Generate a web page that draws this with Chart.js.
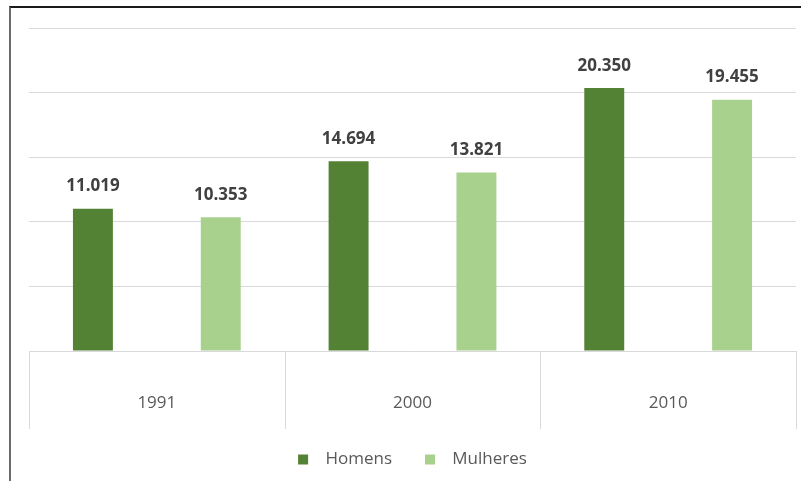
<!DOCTYPE html>
<html>
<head>
<meta charset="utf-8">
<script src="https://cdn.jsdelivr.net/npm/chart.js@4.4.0/dist/chart.umd.min.js"></script>
<style>
  html, body { margin: 0; padding: 0; background: #fff; }
  #wrap { position: relative; width: 801px; height: 481px; }
  #frame { position: absolute; left: 9px; top: 6px; right: 0; bottom: 0;
           border-top: 2px solid #1a1a1a; border-left: 2px solid #6b6b6b; }
  canvas { position: absolute; left: 0; top: 0; }
</style>
</head>
<body>
<div id="wrap">
  <div id="frame"></div>
  <canvas id="grafico" width="801" height="481"></canvas>
</div>
<script>
// dados
const anos = ['1991', '2000', '2010'];
const homens = [11.019, 14.694, 20.350];
const mulheres = [10.353, 13.821, 19.455];
const marcasY = [0, 5, 10, 15, 20, 25];

const fonte = '"Open Sans", "Noto Sans", sans-serif';
const cores = {
    homens: '#548235',
    mulheres: '#a9d18e',
    grade: '#d9d9d9',
    texto: '#595959',
    rotulo: '#404040'
};

// rótulos em cima das barras
const rotulosBarras = {
    id: 'rotulosBarras',
    afterDatasetsDraw(chart) {
        const ctx = chart.ctx;
        ctx.save();
        ctx.font = 'bold 17px ' + fonte;
        ctx.fillStyle = cores.rotulo;
        ctx.textAlign = 'center';
        ctx.textBaseline = 'middle';
        chart.data.datasets.forEach((ds, i) => {
            chart.getDatasetMeta(i).data.forEach((bar, j) => {
                ctx.fillText(ds.data[j].toFixed(3), bar.x, bar.y - 22);
            });
        });
        ctx.restore();
    }
};

// divisórias das categorias abaixo do eixo
const divisorias = {
    id: 'divisorias',
    afterDraw(chart) {
        const x = chart.scales.x;
        const base = chart.chartArea.bottom;
        const passo = x.width / anos.length;
        const ctx = chart.ctx;
        ctx.save();
        ctx.strokeStyle = cores.grade;
        ctx.lineWidth = 1;
        for (let i = 0; i <= anos.length; i++) {
            const px = Math.round(x.left + i * passo) + 0.5;
            ctx.beginPath();
            ctx.moveTo(px, base);
            ctx.lineTo(px, base + 78);
            ctx.stroke();
        }
        ctx.restore();
    }
};

const ctx = document.getElementById('grafico').getContext('2d');
new Chart(ctx, {
    type: 'bar',
    data: {
        labels: anos,
        datasets: [
            { label: 'Homens', data: homens, backgroundColor: cores.homens },
            { label: 'Mulheres', data: mulheres, backgroundColor: cores.mulheres }
        ]
    },
    options: {
        responsive: false,
        animation: false,
        categoryPercentage: 1.0,
        barPercentage: 0.3125,
        layout: { padding: { left: 29, right: 5, top: 28, bottom: 3 } },
        plugins: {
            tooltip: { enabled: false },
            legend: {
                position: 'bottom',
                labels: {
                    boxWidth: 10,
                    boxHeight: 10,
                    padding: 33,
                    color: cores.texto,
                    font: { family: fonte, size: 17 },
                    generateLabels(chart) {
                        return chart.data.datasets.map((ds, i) => ({
                            text: '  ' + ds.label,
                            fillStyle: ds.backgroundColor,
                            strokeStyle: ds.backgroundColor,
                            lineWidth: 0,
                            datasetIndex: i,
                            fontColor: cores.texto
                        }));
                    }
                }
            }
        },
        scales: {
            x: {
                grid: { display: false },
                border: { display: false },
                ticks: {
                    color: cores.texto,
                    font: { family: fonte, size: 17 },
                    padding: 34
                },
                afterFit(axis) { axis.height = 67; }
            },
            y: {
                min: 0,
                max: 25,
                afterBuildTicks(axis) {
                    axis.ticks = marcasY.map(v => ({ value: v }));
                },
                grid: { color: cores.grade, drawTicks: false },
                border: { display: false },
                ticks: { display: false }
            }
        }
    },
    plugins: [rotulosBarras, divisorias]
});
</script>
</body>
</html>
